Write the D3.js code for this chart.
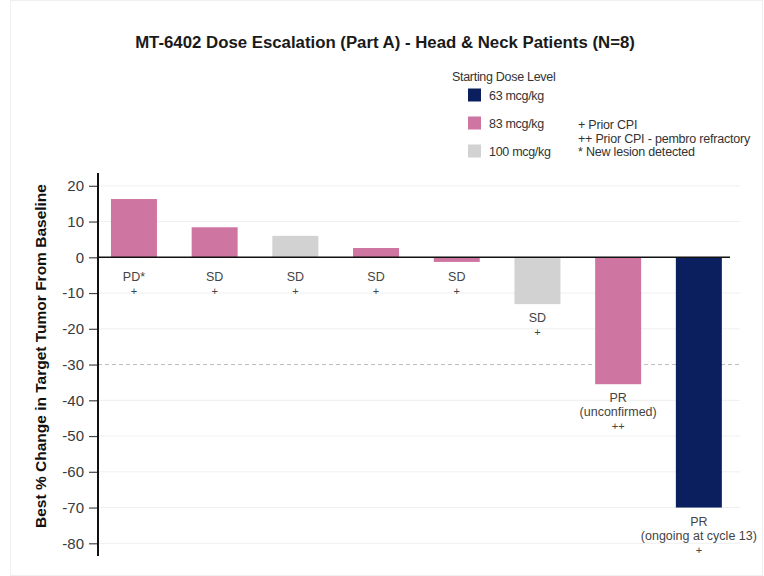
<!DOCTYPE html>
<html>
<head>
<meta charset="utf-8">
<script src="https://cdn.jsdelivr.net/npm/d3@7"></script>
<style>
  body { margin: 0; background: #fff; }
  svg { font-family: "Liberation Sans", Arial, sans-serif; }
</style>
</head>
<body>
<div id="chart"></div>
<script>
// patients, in the order shown
var patients = ["P1", "P2", "P3", "P4", "P5", "P6", "P7", "P8"];
var bestChange = [16.3, 8.4, 6.0, 2.6, -1.3, -13.1, -35.5, -70.0];
var doseLevel = ["83", "83", "100", "83", "83", "100", "83", "63"];
var responseLabels = [
    ["PD*", "+"],
    ["SD", "+"],
    ["SD", "+"],
    ["SD", "+"],
    ["SD", "+"],
    ["SD", "+"],
    ["PR", "(unconfirmed)", "++"],
    ["PR", "(ongoing at cycle 13)", "+"]
];
var yTicks = [20, 10, 0, -10, -20, -30, -40, -50, -60, -70, -80];
var threshold = -30;

var doseKeys = ["63", "83", "100"];
var doseNames = ["63 mcg/kg", "83 mcg/kg", "100 mcg/kg"];
var doseColors = ["#0b1f5e", "#cf75a1", "#d2d2d2"];
var notes = ["+ Prior CPI", "++ Prior CPI - pembro refractory", "* New lesion detected"];

var width = 764, height = 576;

var svg = d3.select("#chart").append("svg")
    .attr("width", width)
    .attr("height", height);

// faint frame of the original slide
svg.append("rect")
    .attr("x", 10.5).attr("y", 0.5)
    .attr("width", 752).attr("height", 575)
    .attr("fill", "none")
    .attr("stroke", "#f0f0f0");

var color = d3.scaleOrdinal().domain(doseKeys).range(doseColors);

var x = d3.scaleBand()
    .domain(patients)
    .range([93.6, 739.2])
    .paddingInner(0.43)
    .paddingOuter(0.215);

var y = d3.scaleLinear()
    .domain([-80, 20])
    .range([543.3, 185.8]);

var axisX = 98;

// gridlines
svg.append("g")
    .selectAll("line")
    .data(yTicks.filter(function(d) { return d !== 0 && d !== threshold; }))
    .enter()
    .append("line")
    .attr("x1", axisX).attr("x2", 740)
    .attr("y1", function(d) { return y(d); })
    .attr("y2", function(d) { return y(d); })
    .attr("stroke", "#efefef")
    .attr("stroke-width", 1);

// -30% response threshold
svg.append("line")
    .attr("x1", axisX).attr("x2", 740)
    .attr("y1", y(threshold)).attr("y2", y(threshold))
    .attr("stroke", "#bdbdbd")
    .attr("stroke-width", 1)
    .attr("stroke-dasharray", "4,3");

// bars
svg.append("g")
    .selectAll("rect")
    .data(bestChange)
    .enter()
    .append("rect")
    .attr("x", function(d, i) { return x(patients[i]); })
    .attr("y", function(d) { return y(Math.max(0, d)); })
    .attr("width", x.bandwidth())
    .attr("height", function(d) { return Math.abs(y(d) - y(0)); })
    .attr("fill", function(d, i) { return color(doseLevel[i]); });

// zero line
svg.append("line")
    .attr("x1", axisX).attr("x2", 730)
    .attr("y1", y(0)).attr("y2", y(0))
    .attr("stroke", "#111")
    .attr("stroke-width", 1.6);

// y axis
var yAxis = d3.axisLeft(y)
    .tickValues(yTicks)
    .tickFormat(function(d) { return String(d); })
    .tickSize(9)
    .tickPadding(5);

var gy = svg.append("g")
    .attr("transform", "translate(" + axisX + ",0)")
    .call(yAxis);

gy.select(".domain").remove();
gy.selectAll(".tick line").attr("stroke", "#444").attr("stroke-width", 1.2);
gy.selectAll(".tick text")
    .attr("fill", "#3a3a3a")
    .style("font-size", "15px");

svg.append("line")
    .attr("x1", axisX).attr("x2", axisX)
    .attr("y1", 173).attr("y2", 556)
    .attr("stroke", "#111")
    .attr("stroke-width", 2);

svg.append("text")
    .attr("transform", "translate(40," + 356 + ") rotate(-90)")
    .attr("text-anchor", "middle")
    .attr("dominant-baseline", "central")
    .attr("fill", "#111")
    .style("font-size", "15.5px")
    .style("font-weight", "bold")
    .text("Best % Change in Target Tumor From Baseline");

// response labels under each bar
var labelGroups = svg.append("g")
    .selectAll("g")
    .data(responseLabels)
    .enter()
    .append("g")
    .attr("transform", function(d, i) {
        var cx = x(patients[i]) + x.bandwidth() / 2;
        var top = Math.max(y(Math.min(0, bestChange[i])) + 18, y(0) + 24);
        return "translate(" + cx + "," + top + ")";
    });

labelGroups.selectAll("text")
    .data(function(d) { return d; })
    .enter()
    .append("text")
    .attr("text-anchor", "middle")
    .attr("y", function(d, j) { return j * 14; })
    .attr("fill", "#444")
    .style("font-size", function(d) { return d.indexOf("+") === 0 ? "11px" : "12.5px"; })
    .text(function(d) { return d; });

// title
svg.append("text")
    .attr("x", 385)
    .attr("y", 48)
    .attr("text-anchor", "middle")
    .attr("fill", "#1a1a1a")
    .style("font-size", "16.8px")
    .style("font-weight", "bold")
    .text("MT-6402 Dose Escalation (Part A) - Head & Neck Patients (N=8)");

// legend
var legend = svg.append("g");

legend.append("text")
    .attr("x", 452)
    .attr("y", 81)
    .attr("fill", "#333")
    .style("font-size", "12.5px")
    .style("letter-spacing", "-0.3px")
    .text("Starting Dose Level");

var legendItems = legend.selectAll("g")
    .data(doseKeys)
    .enter()
    .append("g")
    .attr("transform", function(d, i) { return "translate(468," + (95 + i * 28) + ")"; });

legendItems.append("rect")
    .attr("x", 0).attr("y", -6.5)
    .attr("width", 13).attr("height", 13)
    .attr("fill", function(d) { return color(d); });

legendItems.append("text")
    .attr("x", 21)
    .attr("y", 4.5)
    .attr("fill", "#333")
    .style("font-size", "12.5px")
    .style("letter-spacing", "-0.3px")
    .text(function(d, i) { return doseNames[i]; });

legend.selectAll(".note")
    .data(notes)
    .enter()
    .append("text")
    .attr("class", "note")
    .attr("x", 578)
    .attr("y", function(d, i) { return 129 + i * 13.5; })
    .attr("fill", "#333")
    .style("font-size", "12.5px")
    .style("letter-spacing", "-0.2px")
    .text(function(d) { return d; });
</script>
</body>
</html>
